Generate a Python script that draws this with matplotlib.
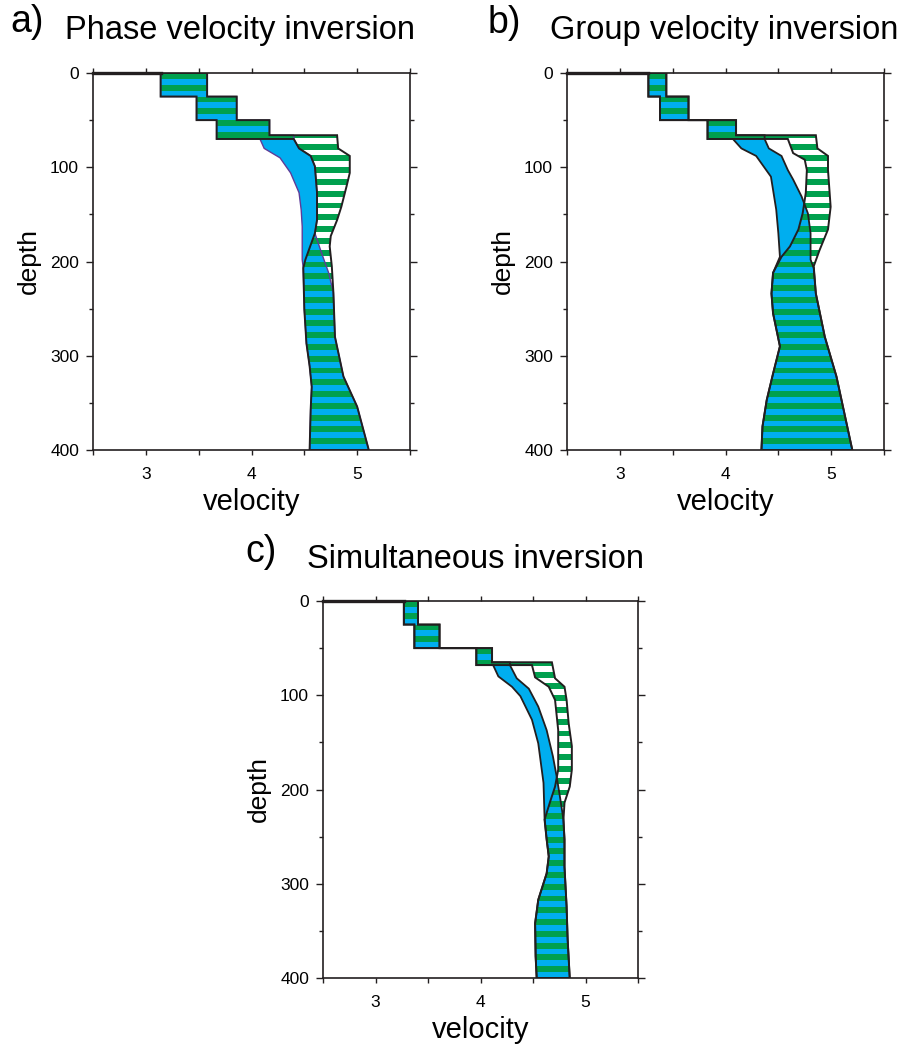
import numpy as np
import matplotlib.pyplot as plt
from matplotlib.patches import Polygon

plt.rcParams["font.family"] = ["Liberation Sans", "DejaVu Sans"]

BLUE = "#00aeef"
GREEN = "#00a04e"
EDGE = "#231f20"
STRIPE = 12.5  # depth period of the green stripes

# --- a) phase velocity inversion -------------------------------------------
# layer interfaces seen by the slow (left) and fast (right) bound of the crust
a_left_interfaces = [0, 25, 50, 70]
a_right_interfaces = [0, 25, 50, 66]
a_step_vmin = [3.14, 3.48, 3.67]
a_step_vmax = [3.58, 3.86, 4.17]

a_blue_left_d = [70, 80, 90, 106, 127, 145, 163, 198, 207, 251, 287, 311, 333, 357, 400]
a_blue_left_v = [4.08, 4.12, 4.27, 4.37, 4.45, 4.47, 4.48, 4.48, 4.49, 4.50, 4.52, 4.55, 4.57, 4.56, 4.55]
a_blue_right_d = [66, 70, 80, 88, 99, 127, 156, 170, 190, 212, 233, 280, 322, 354, 400]
a_blue_right_v = [4.40, 4.40, 4.45, 4.56, 4.60, 4.62, 4.62, 4.60, 4.66, 4.73, 4.775, 4.79, 4.87, 5.00, 5.11]

a_green_left_d = [70, 80, 88, 99, 127, 156, 170, 184, 198, 207, 251, 287, 311, 333, 357, 400]
a_green_left_v = [4.40, 4.45, 4.56, 4.60, 4.62, 4.62, 4.60, 4.555, 4.51, 4.49, 4.50, 4.52, 4.55, 4.57, 4.56, 4.55]
a_green_right_d = [66, 80, 88, 106, 120, 142, 156, 173, 184, 205, 233, 280, 322, 354, 400]
a_green_right_v = [4.81, 4.82, 4.93, 4.93, 4.90, 4.85, 4.81, 4.75, 4.74, 4.76, 4.775, 4.79, 4.87, 5.00, 5.11]

# --- b) group velocity inversion -------------------------------------------
b_left_interfaces = [0, 25, 50, 70]
b_right_interfaces = [0, 25, 50, 66]
b_step_vmin = [3.27, 3.38, 3.83]
b_step_vmax = [3.44, 3.65, 4.10]

b_blue_left_d = [70, 80, 88, 99, 110, 145, 170, 195, 212, 234, 255, 290, 319, 347, 375, 400]
b_blue_left_v = [4.07, 4.15, 4.29, 4.36, 4.43, 4.48, 4.50, 4.515, 4.45, 4.435, 4.45, 4.515, 4.45, 4.39, 4.35, 4.34]
b_blue_right_d = [66, 70, 80, 88, 103, 113, 131, 149, 170, 198, 207, 234, 280, 322, 400]
b_blue_right_v = [4.37, 4.37, 4.41, 4.53, 4.59, 4.64, 4.72, 4.78, 4.805, 4.805, 4.835, 4.855, 4.94, 5.05, 5.20]

b_green_left_d = [70, 85, 92, 103, 127, 142, 149, 166, 184, 195, 212, 234, 255, 290, 319, 347, 375, 400]
b_green_left_v = [4.59, 4.64, 4.75, 4.77, 4.76, 4.74, 4.73, 4.69, 4.61, 4.53, 4.45, 4.435, 4.45, 4.515, 4.45, 4.39, 4.35, 4.34]
b_green_right_d = [66, 80, 88, 103, 142, 166, 188, 205, 234, 280, 322, 400]
b_green_right_v = [4.855, 4.87, 4.97, 4.97, 4.995, 4.97, 4.89, 4.835, 4.855, 4.94, 5.05, 5.20]

# --- c) simultaneous inversion ---------------------------------------------
c_left_interfaces = [0, 25, 50, 68]
c_right_interfaces = [0, 25, 50, 65]
c_step_vmin = [3.27, 3.37, 3.96]
c_step_vmax = [3.405, 3.61, 4.11]

c_blue_left_d = [68, 80, 91, 101, 126, 151, 193, 230, 253, 271, 289, 317, 342, 377, 400]
c_blue_left_v = [4.12, 4.17, 4.30, 4.38, 4.49, 4.55, 4.60, 4.61, 4.63, 4.65, 4.63, 4.55, 4.52, 4.525, 4.535]
c_blue_right_d = [65, 68, 82, 93, 112, 137, 165, 186, 210, 232, 253, 282, 324, 359, 400]
c_blue_right_v = [4.28, 4.28, 4.345, 4.46, 4.55, 4.63, 4.69, 4.725, 4.76, 4.79, 4.80, 4.80, 4.82, 4.83, 4.85]

c_green_left_d = [68, 81, 91, 105, 137, 179, 197, 214, 232, 253, 271, 289, 317, 342, 377, 400]
c_green_left_v = [4.49, 4.52, 4.65, 4.71, 4.74, 4.74, 4.71, 4.66, 4.61, 4.63, 4.65, 4.63, 4.55, 4.52, 4.525, 4.535]
c_green_right_d = [65, 82, 91, 105, 130, 154, 179, 197, 214, 232, 253, 282, 324, 359, 400]
c_green_right_v = [4.68, 4.71, 4.80, 4.82, 4.84, 4.87, 4.87, 4.85, 4.80, 4.79, 4.80, 4.80, 4.82, 4.83, 4.85]


def edge(interfaces, step_v, depth, vel):
    pts = []
    for i, v in enumerate(step_v):
        pts += [(v, interfaces[i]), (v, interfaces[i + 1])]
    pts += list(zip(vel, depth))
    return pts


def envelope(left_if, right_if, vmin, vmax, left_d, left_v, right_d, right_v):
    left = edge(left_if, vmin, left_d, left_v)
    right = edge(right_if, vmax, right_d, right_v)
    return left + right[::-1]


def draw_panel(ax, left_if, right_if, vmin, vmax, blue, green,
               blue_edge=EDGE, blue_lw=1.3):
    blue_poly = envelope(left_if, right_if, vmin, vmax, *blue)
    green_poly = envelope(left_if, right_if, vmin, vmax, *green)

    ax.add_patch(Polygon(blue_poly, closed=True, facecolor=BLUE, edgecolor="none", zorder=1))

    # green stripes, clipped to the green envelope
    tops = np.arange(0, 400, STRIPE)
    bars = ax.barh(tops, 3.0, left=2.5, height=STRIPE / 2, align="edge",
                   color=GREEN, linewidth=0, zorder=2)
    clip = Polygon(green_poly, closed=True, transform=ax.transData)
    for bar in bars:
        bar.set_clip_path(clip)

    ax.add_patch(Polygon(blue_poly, closed=True, fill=False, edgecolor=blue_edge,
                         linewidth=blue_lw, joinstyle="miter", zorder=3))
    ax.add_patch(Polygon(green_poly, closed=True, fill=False, edgecolor=EDGE,
                         linewidth=1.4, joinstyle="miter", zorder=4))
    ax.plot([2.5, vmin[0]], [0, 0], color=EDGE, linewidth=2.4, clip_on=False, zorder=5)

    ax.set_xlim(2.5, 5.5)
    ax.set_ylim(400, 0)
    ax.set_xticks([3, 4, 5])
    ax.set_xticks([2.5, 3.5, 4.5, 5.5], minor=True)
    ax.set_yticks(range(0, 401, 100))
    ax.set_yticks(range(50, 400, 100), minor=True)
    ax.tick_params(which="both", direction="out", top=True, right=True,
                   width=1, color=EDGE, labelsize=12.5)
    ax.tick_params(axis="y", which="major", length=5, pad=5)
    ax.tick_params(axis="y", which="minor", length=3)
    ax.tick_params(axis="x", which="both", length=3.5, pad=9)
    for s in ax.spines.values():
        s.set_linewidth(1.2)
        s.set_color(EDGE)
    ax.set_xlabel("velocity", fontsize=21, labelpad=4)
    ax.set_ylabel("depth", fontsize=19, labelpad=7)


W, H = 917, 1048
fig = plt.figure(figsize=(W / 100, H / 100), dpi=100)

ax_a = fig.add_axes([93 / W, 1 - 450 / H, 317 / W, 377 / H])
ax_b = fig.add_axes([567 / W, 1 - 450 / H, 317 / W, 377 / H])
ax_c = fig.add_axes([323 / W, 1 - 978 / H, 315 / W, 377 / H])

draw_panel(ax_a, a_left_interfaces, a_right_interfaces, a_step_vmin, a_step_vmax,
           (a_blue_left_d, a_blue_left_v, a_blue_right_d, a_blue_right_v),
           (a_green_left_d, a_green_left_v, a_green_right_d, a_green_right_v),
           blue_edge="#5e3c99", blue_lw=1.0)
draw_panel(ax_b, b_left_interfaces, b_right_interfaces, b_step_vmin, b_step_vmax,
           (b_blue_left_d, b_blue_left_v, b_blue_right_d, b_blue_right_v),
           (b_green_left_d, b_green_left_v, b_green_right_d, b_green_right_v))
draw_panel(ax_c, c_left_interfaces, c_right_interfaces, c_step_vmin, c_step_vmax,
           (c_blue_left_d, c_blue_left_v, c_blue_right_d, c_blue_right_v),
           (c_green_left_d, c_green_left_v, c_green_right_d, c_green_right_v))

# panel letters and titles
fig.text(10 / W, 1 - 32 / H, "a)", fontsize=27, va="baseline")
fig.text(65 / W, 1 - 39 / H, "Phase velocity inversion", fontsize=23.5, va="baseline")
fig.text(488 / W, 1 - 33 / H, "b)", fontsize=27, va="baseline")
fig.text(550 / W, 1 - 39 / H, "Group velocity inversion", fontsize=23.5, va="baseline")
fig.text(245 / W, 1 - 562 / H, "c)", fontsize=27, va="baseline")
fig.text(307 / W, 1 - 568 / H, "Simultaneous inversion", fontsize=23.5, va="baseline")

fig.savefig("out.png", dpi=100)
